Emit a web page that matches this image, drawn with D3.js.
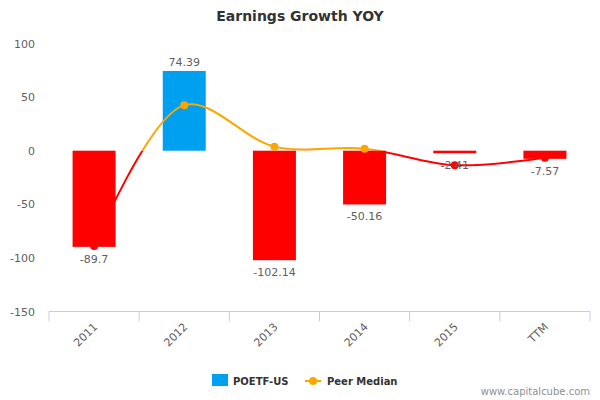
<!DOCTYPE html>
<html><head><meta charset="utf-8">
<script src="https://cdn.jsdelivr.net/npm/d3@7"></script>
<style>body{margin:0;background:#fff;}svg{display:block;font-family:"DejaVu Sans",Verdana,sans-serif;}</style>
</head><body><svg id="chart" width="600" height="400"></svg>
<script>
const categories = ["2011","2012","2013","2014","2015","TTM"];
const companyValues = [-89.7, 74.39, -102.14, -50.16, -2.41, -7.57];
const peerMedian = [-88.8, 42.5, 3.8, 1.8, -13.5, -6.6];
const yTicks = [100, 50, 0, -50, -100, -150];
const seriesNames = ["POETF-US", "Peer Median"];

(function(){
const svg = d3.select("#chart");
const pLeft = 49, pRight = 590, pTop = 43.5, pBottom = 311.5;
const x = d3.scaleBand().domain(categories).range([pLeft, pRight]).paddingInner(0).paddingOuter(0);
const y = d3.scaleLinear().domain([-150, 100]).range([pBottom, pTop]);

svg.append("text").attr("x", 300).attr("y", 21).attr("text-anchor", "middle")
  .attr("font-size", 14).attr("font-weight", "bold").attr("fill", "#333").text("Earnings Growth YOY");

const yAxis = d3.axisLeft(y).tickValues(yTicks).tickSize(0).tickPadding(0).tickFormat(d => String(d));
const ya = svg.append("g").attr("transform", `translate(${35},0)`).call(yAxis);
ya.select(".domain").remove();
ya.selectAll("text").attr("font-size", 11).attr("fill", "#606060").attr("font-family", "DejaVu Sans, sans-serif");

const xAxisG = svg.append("g").attr("transform", `translate(0,${pBottom})`);
xAxisG.append("line").attr("x1", pLeft).attr("x2", pRight).attr("y1", 0).attr("y2", 0).attr("stroke", "#C0D0E0");
const bounds = categories.map(c => x(c)).concat([pRight]);
xAxisG.selectAll("line.tk").data(bounds).join("line").attr("class","tk")
  .attr("x1", d => d).attr("x2", d => d).attr("y1", 0).attr("y2", 10).attr("stroke", "#C0D0E0");
xAxisG.selectAll("text").data(categories).join("text")
  .attr("transform", d => `translate(${x(d) + x.bandwidth()/2 + 4},${16}) rotate(-45)`)
  .attr("text-anchor", "end").attr("font-size", 11).attr("fill", "#606060").text(d => d);

const barW = 43;
svg.append("g").selectAll("rect").data(companyValues).join("rect")
  .attr("x", (d,i) => x(categories[i]) + x.bandwidth()/2 - barW/2)
  .attr("width", barW)
  .attr("y", d => d >= 0 ? y(d) : y(0))
  .attr("height", d => Math.max(1, Math.abs(y(d) - y(0))))
  .attr("fill", d => d >= 0 ? "#00A0F0" : "#FF0000");

const pts = peerMedian.map((v,i) => [x(categories[i]) + x.bandwidth()/2, y(v)]);
const line = d3.line().curve(d3.curveCatmullRom.alpha(0.5));
const defs = svg.append("defs");
defs.append("clipPath").attr("id","above").append("rect").attr("x",0).attr("y",0).attr("width",600).attr("height",y(0));
defs.append("clipPath").attr("id","below").append("rect").attr("x",0).attr("y",y(0)).attr("width",600).attr("height",400);
svg.append("path").attr("d", line(pts)).attr("fill","none").attr("stroke","#FFA500").attr("stroke-width",2).attr("clip-path","url(#above)");
svg.append("path").attr("d", line(pts)).attr("fill","none").attr("stroke","#FF0000").attr("stroke-width",2).attr("clip-path","url(#below)");
svg.append("g").selectAll("circle").data(peerMedian).join("circle")
  .attr("cx", (d,i) => pts[i][0]).attr("cy", (d,i) => pts[i][1]).attr("r", 4)
  .attr("fill", d => d >= 0 ? "#FFA500" : "#FF0000");

svg.append("g").selectAll("text").data(companyValues).join("text")
  .attr("x", (d,i) => x(categories[i]) + x.bandwidth()/2)
  .attr("y", d => d >= 0 ? y(d) - 5 : y(d) + 16)
  .attr("text-anchor","middle").attr("font-size", 11).attr("fill","#606060")
  .text(d => d);

const lg = svg.append("g");
lg.append("rect").attr("x",212).attr("y",374).attr("width",16).attr("height",12).attr("fill","#00A0F0");
lg.append("text").attr("x",233).attr("y",385).attr("font-size",10).attr("font-weight","bold").attr("fill","#333").text(seriesNames[0]);
lg.append("line").attr("x1",305).attr("x2",321).attr("y1",381).attr("y2",381).attr("stroke","#FFA500").attr("stroke-width",2);
lg.append("circle").attr("cx",313).attr("cy",381).attr("r",4).attr("fill","#FFA500");
lg.append("text").attr("x",327).attr("y",385).attr("font-size",10).attr("font-weight","bold").attr("fill","#333").text(seriesNames[1]);

svg.append("text").attr("x",590).attr("y",395).attr("text-anchor","end").attr("font-size",10).attr("fill","#909090").text("www.capitalcube.com");
})();
</script></body></html>
